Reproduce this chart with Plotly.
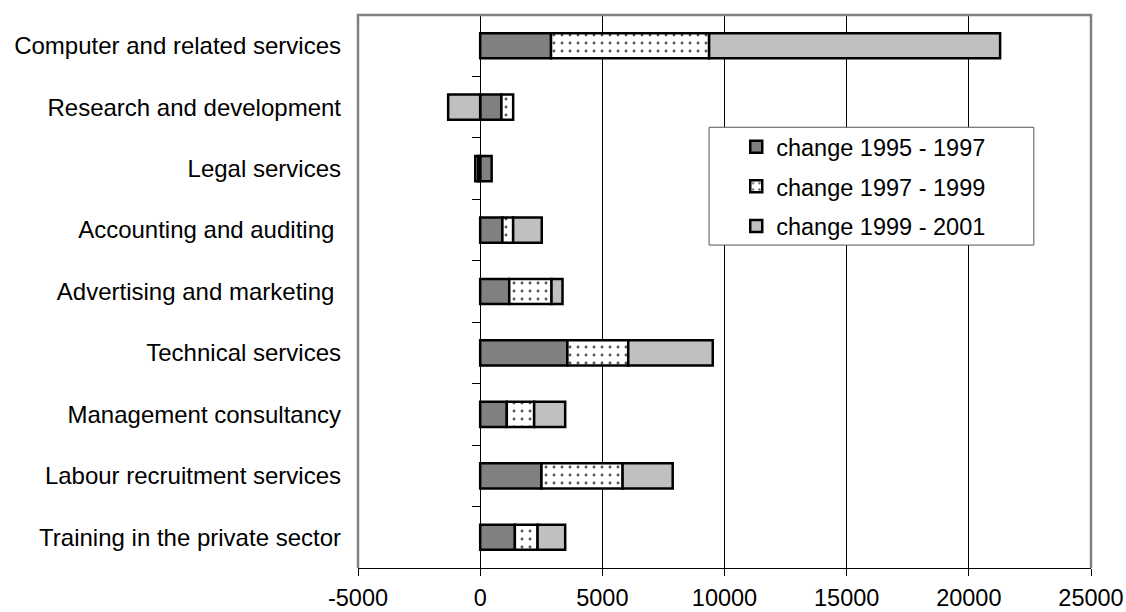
import plotly.graph_objects as go

categories = [
    "Computer and related services",
    "Research and development",
    "Legal services",
    "Accounting and auditing\u00a0",
    "Advertising and marketing\u00a0",
    "Technical services",
    "Management consultancy",
    "Labour recruitment services",
    "Training in the private sector",
]
change_1995_1997 = [2900, 870, 470, 910, 1190, 3570, 1090, 2510, 1420]
change_1997_1999 = [6470, 480, -80, 440, 1730, 2490, 1120, 3320, 930]
change_1999_2001 = [11910, -1310, -120, 1170, 450, 3460, 1270, 2050, 1130]
series_names = ["change 1995 - 1997", "change 1997 - 1999", "change 1999 - 2001"]
x_ticks = [-5000, 0, 5000, 10000, 15000, 20000, 25000]

FONT = "Liberation Sans, Arial, sans-serif"
fig = go.Figure()

fig.add_trace(go.Bar(
    y=categories, x=change_1995_1997, orientation="h", name=series_names[0],
    marker=dict(color="#808080", line=dict(color="black", width=2.5)),
    legendgroup="a",
))
fig.add_trace(go.Bar(
    y=categories, x=change_1997_1999, orientation="h", name=series_names[1],
    marker=dict(color="white", line=dict(color="black", width=2.5),
                pattern=dict(shape=".", fgcolor="#555555", bgcolor="white",
                             size=8, solidity=0.1)),
    legendgroup="b",
))
fig.add_trace(go.Bar(
    y=categories, x=change_1999_2001, orientation="h", name=series_names[2],
    marker=dict(color="#C0C0C0", line=dict(color="black", width=2.5)),
    legendgroup="c",
))
# invisible helper trace for the category axis drawn at x = 0
fig.add_trace(go.Scatter(
    x=[0] * len(categories), y=categories, yaxis="y2", mode="markers",
    marker=dict(opacity=0), showlegend=False, hoverinfo="skip",
))

n = len(categories)
fig.update_layout(
    template="none",
    width=1126, height=612,
    margin=dict(l=358, r=35, t=15, b=44, autoexpand=False),
    paper_bgcolor="white", plot_bgcolor="white",
    font=dict(family=FONT, size=24, color="black"),
    barmode="relative",
    bargap=0.59,
    showlegend=True,
    legend=dict(
        x=0.516, y=0.801, xanchor="left", yanchor="top",
        bgcolor="rgba(0,0,0,0)", borderwidth=0,
        font=dict(family=FONT, size=23.5, color="black"),
        tracegroupgap=6, traceorder="grouped",
        itemwidth=30,
    ),
    xaxis=dict(
        range=[-5000, 25000], tickvals=x_ticks, ticktext=[str(v) for v in x_ticks],
        automargin=False,
        showgrid=True, gridcolor="black", gridwidth=1,
        zeroline=False,
        showline=True, linecolor="black", linewidth=1,
        ticks="outside", ticklen=7, tickcolor="black", tickwidth=1,
        ticklabelstandoff=2,
        tickfont=dict(family=FONT, size=23.5, color="black"),
    ),
    yaxis=dict(
        type="category", categoryorder="array", categoryarray=categories,
        range=[n - 0.5, -0.5], automargin=False,
        showgrid=False, zeroline=False, showline=False,
        ticks="", ticklabelstandoff=16,
        tickfont=dict(family=FONT, size=24, color="black"),
    ),
    yaxis2=dict(
        type="category", categoryorder="array", categoryarray=categories,
        range=[n - 0.5, -0.5], automargin=False,
        overlaying="y", anchor="free", position=5000 / 30000, side="left",
        showgrid=False, zeroline=False,
        showline=True, linecolor="black", linewidth=1,
        ticks="outside", ticklen=8, tickcolor="black", tickwidth=1,
        tickson="boundaries",
        showticklabels=False,
    ),
    shapes=[
        # plot area frame (left, top, right)
        dict(type="path", xref="paper", yref="paper",
             path="M 0 0 L 0 1 L 1 1 L 1 0",
             line=dict(color="#808080", width=2.5),
             layer="above"),
        # legend box
        dict(type="rect", xref="paper", yref="paper",
             x0=0.479, x1=0.922, y0=0.584, y1=0.797,
             line=dict(color="#555555", width=1), fillcolor="white",
             layer="above"),
    ],
)

fig.write_html("out.html")
